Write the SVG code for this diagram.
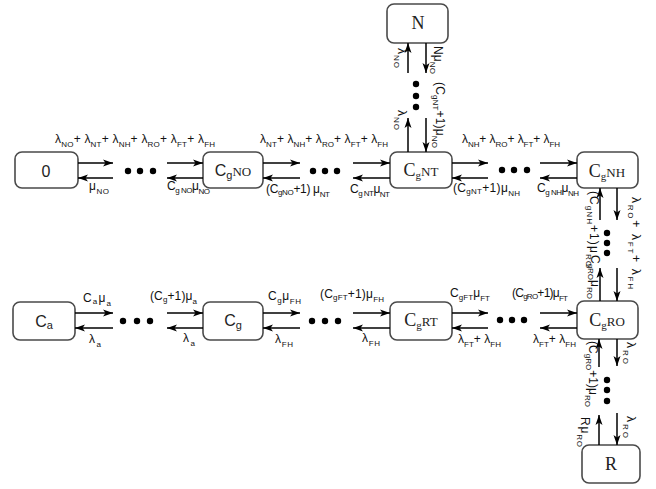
<svg xmlns="http://www.w3.org/2000/svg" width="656" height="489" viewBox="0 0 656 489">
<style>
.bx{fill:#fff;stroke:#4a4a4a;stroke-width:1.6}
.ln line{stroke:#000;stroke-width:1.5;marker-end:url(#ah)}
.dt circle{fill:#000}
.t{font-family:"Liberation Sans","DejaVu Sans",sans-serif;font-size:12px;fill:#111}
.s{font-size:8px}
.nd{font-family:"Liberation Serif","DejaVu Serif",serif;font-size:18px;fill:#222}
.nds{font-family:"Liberation Sans","DejaVu Sans",sans-serif;font-size:16px;fill:#222}
.ng{font-size:11px}
.nn{font-size:13px}
</style>
<defs>
<marker id="ah" markerWidth="10" markerHeight="8" refX="10" refY="4" orient="auto" markerUnits="userSpaceOnUse"><path d="M0,0.5 L10,4 L0,7.5 L2.5,4 z" fill="#000"/></marker>
</defs>

<g id="n0"><rect class="bx" x="15" y="152" width="63" height="36" rx="7"/><text class="nds" x="46" y="177" text-anchor="middle">0</text></g>
<g id="nCgNO"><rect class="bx" x="203" y="152" width="60" height="36" rx="7"/><text class="nds" x="233" y="176" text-anchor="middle">C<tspan class="ng" dy="3">g</tspan><tspan class="nn" dy="-3" font-family="Liberation Serif">NO</tspan></text></g>
<g id="nCgNT"><rect class="bx" x="390" y="152" width="62" height="36" rx="7"/><text class="nd" x="421" y="176" text-anchor="middle">C<tspan class="ng" dy="3">g</tspan><tspan class="nn" dy="-3">NT</tspan></text></g>
<g id="nN"><rect class="bx" x="387" y="4" width="61" height="39" rx="7"/><text class="nd" x="418" y="29" text-anchor="middle">N</text></g>
<g id="nCgNH"><rect class="bx" x="577" y="152" width="61" height="36" rx="7"/><text class="nd" x="607" y="177" text-anchor="middle">C<tspan class="ng" dy="3">g</tspan><tspan class="nn" dy="-3">NH</tspan></text></g>
<g id="nCa"><rect class="bx" x="13" y="302" width="62" height="38" rx="7"/><text class="nds" x="44" y="327" text-anchor="middle">C<tspan class="ng" dy="2">a</tspan></text></g>
<g id="nCg"><rect class="bx" x="203" y="302" width="60" height="38" rx="7"/><text class="nds" x="233" y="326" text-anchor="middle">C<tspan class="ng" dy="3">g</tspan></text></g>
<g id="nCgRT"><rect class="bx" x="390" y="302" width="62" height="38" rx="7"/><text class="nd" x="421" y="326" text-anchor="middle">C<tspan class="ng" dy="3">g</tspan><tspan class="nn" dy="-3">RT</tspan></text></g>
<g id="nCgRO"><rect class="bx" x="577" y="301" width="61" height="38" rx="7"/><text class="nd" x="607" y="326" text-anchor="middle">C<tspan class="ng" dy="3">g</tspan><tspan class="nn" dy="-3">RO</tspan></text></g>
<g id="nR"><rect class="bx" x="582" y="445" width="58" height="38" rx="7"/><text class="nd" x="611" y="470" text-anchor="middle">R</text></g>

<g id="connectors">
<g class="ln">
<line x1="78" y1="163" x2="113" y2="163"/><line x1="113" y1="178" x2="78" y2="178"/>
<line x1="167" y1="163" x2="203" y2="163"/><line x1="203" y1="178" x2="167" y2="178"/>
<line x1="263" y1="163" x2="300" y2="163"/><line x1="300" y1="178" x2="263" y2="178"/>
<line x1="353" y1="163" x2="390" y2="163"/><line x1="390" y1="178" x2="353" y2="178"/>
<line x1="452" y1="163" x2="488" y2="163"/><line x1="488" y1="178" x2="452" y2="178"/>
<line x1="540" y1="163" x2="577" y2="163"/><line x1="577" y1="178" x2="540" y2="178"/>
<line x1="408" y1="73" x2="408" y2="43"/><line x1="426" y1="43" x2="426" y2="73"/>
<line x1="408" y1="152" x2="408" y2="118"/><line x1="426" y1="118" x2="426" y2="152"/>
<line x1="600" y1="220" x2="600" y2="188"/><line x1="617" y1="188" x2="617" y2="220"/>
<line x1="600" y1="301" x2="600" y2="268"/><line x1="617" y1="268" x2="617" y2="301"/>
<line x1="75" y1="313" x2="113" y2="313"/><line x1="113" y1="328" x2="75" y2="328"/>
<line x1="167" y1="313" x2="203" y2="313"/><line x1="203" y1="328" x2="167" y2="328"/>
<line x1="263" y1="313" x2="300" y2="313"/><line x1="300" y1="328" x2="263" y2="328"/>
<line x1="353" y1="313" x2="390" y2="313"/><line x1="390" y1="328" x2="353" y2="328"/>
<line x1="452" y1="313" x2="488" y2="313"/><line x1="488" y1="328" x2="452" y2="328"/>
<line x1="540" y1="313" x2="577" y2="313"/><line x1="577" y1="328" x2="540" y2="328"/>
<line x1="599" y1="367" x2="599" y2="339"/><line x1="617" y1="339" x2="617" y2="366"/>
<line x1="599" y1="445" x2="599" y2="415"/><line x1="617" y1="413" x2="617" y2="445"/>
</g>
<g class="dt">
<circle cx="128" cy="171" r="3.2"/><circle cx="140" cy="171" r="3.2"/><circle cx="153" cy="171" r="3.2"/>
<circle cx="313" cy="171" r="3.2"/><circle cx="325" cy="171" r="3.2"/><circle cx="337" cy="171" r="3.2"/>
<circle cx="502" cy="170" r="3.2"/><circle cx="514" cy="170" r="3.2"/><circle cx="527" cy="170" r="3.2"/>
<circle cx="416" cy="84" r="3.2"/><circle cx="416" cy="96" r="3.2"/><circle cx="416" cy="107" r="3.2"/>
<circle cx="607" cy="233" r="3.2"/><circle cx="607" cy="243" r="3.2"/><circle cx="607" cy="253" r="3.2"/>
<circle cx="123" cy="321" r="3.2"/><circle cx="137" cy="321" r="3.2"/><circle cx="150" cy="321" r="3.2"/>
<circle cx="312" cy="321" r="3.2"/><circle cx="325" cy="321" r="3.2"/><circle cx="338" cy="321" r="3.2"/>
<circle cx="500" cy="320" r="3.2"/><circle cx="512" cy="320" r="3.2"/><circle cx="524" cy="320" r="3.2"/>
<circle cx="607" cy="380" r="3.2"/><circle cx="607" cy="390" r="3.2"/><circle cx="607" cy="401" r="3.2"/>
</g>

<!-- top row labels -->
<text class="t" x="55" y="143" textLength="160" lengthAdjust="spacing">λ<tspan class="s" dy="4">NO</tspan><tspan dy="-4">+ λ</tspan><tspan class="s" dy="4">NT</tspan><tspan dy="-4">+ λ</tspan><tspan class="s" dy="4">NH</tspan><tspan dy="-4">+ λ</tspan><tspan class="s" dy="4">RO</tspan><tspan dy="-4">+ λ</tspan><tspan class="s" dy="4">FT</tspan><tspan dy="-4">+ λ</tspan><tspan class="s" dy="4">FH</tspan></text>
<text class="t" x="89" y="190" textLength="20" lengthAdjust="spacing">μ<tspan class="s" dy="4">NO</tspan></text>
<text class="t" x="167" y="190" textLength="43" lengthAdjust="spacing">C<tspan class="s" dy="3">g NO</tspan><tspan dy="-3">μ</tspan><tspan class="s" dy="4">NO</tspan></text>
<text class="t" x="260" y="143" textLength="128" lengthAdjust="spacing">λ<tspan class="s" dy="4">NT</tspan><tspan dy="-4">+ λ</tspan><tspan class="s" dy="4">NH</tspan><tspan dy="-4">+ λ</tspan><tspan class="s" dy="4">RO</tspan><tspan dy="-4">+ λ</tspan><tspan class="s" dy="4">FT</tspan><tspan dy="-4">+ λ</tspan><tspan class="s" dy="4">FH</tspan></text>
<text class="t" x="266" y="193" textLength="64" lengthAdjust="spacing">(C<tspan class="s" dy="2">gNO</tspan><tspan dy="-2">+1) μ</tspan><tspan class="s" dy="4">NT</tspan></text>
<text class="t" x="350" y="193" textLength="40" lengthAdjust="spacing">C<tspan class="s" dy="3">g NT</tspan><tspan dy="-3">μ</tspan><tspan class="s" dy="4">NT</tspan></text>
<text class="t" x="462" y="143" textLength="98" lengthAdjust="spacing">λ<tspan class="s" dy="4">NH</tspan><tspan dy="-4">+ λ</tspan><tspan class="s" dy="4">RO</tspan><tspan dy="-4">+ λ</tspan><tspan class="s" dy="4">FT</tspan><tspan dy="-4">+ λ</tspan><tspan class="s" dy="4">FH</tspan></text>
<text class="t" x="453" y="192" textLength="67" lengthAdjust="spacing">(C<tspan class="s" dy="2">gNT</tspan><tspan dy="-2">+1)μ</tspan><tspan class="s" dy="4">NH</tspan></text>
<text class="t" x="537" y="192" textLength="42" lengthAdjust="spacing">C<tspan class="s" dy="3">g NH</tspan><tspan dy="-3">μ</tspan><tspan class="s" dy="4">NH</tspan></text>

<!-- vertical labels -->
<text class="t" transform="translate(398,48) rotate(90)" textLength="20" lengthAdjust="spacing">λ<tspan class="s" dy="4">NO</tspan></text>
<text class="t" transform="translate(434,46) rotate(90)" textLength="28" lengthAdjust="spacing">Nμ<tspan class="s" dy="4">NO</tspan></text>
<text class="t" transform="translate(398,110) rotate(90)" textLength="20" lengthAdjust="spacing">λ<tspan class="s" dy="4">NO</tspan></text>
<text class="t" transform="translate(436,82) rotate(90)" textLength="66" lengthAdjust="spacing">(C<tspan class="s" dy="3">gNT</tspan><tspan dy="-3">+1)μ</tspan><tspan class="s" dy="4">NO</tspan></text>
<text class="t" transform="translate(590,191) rotate(90)" textLength="76" lengthAdjust="spacing">(C<tspan class="s" dy="3">gNH</tspan><tspan dy="-3">+1)μ</tspan><tspan class="s" dy="4">RO</tspan></text>
<text class="t" transform="translate(591,255) rotate(90)" textLength="44" lengthAdjust="spacing">C<tspan class="s" dy="3">gRO</tspan><tspan dy="-3">μ</tspan><tspan class="s" dy="4">RO</tspan></text>
<text class="t" transform="translate(632,197) rotate(90)" textLength="92" lengthAdjust="spacing">λ<tspan class="s" dy="4">RO</tspan><tspan dy="-4">+ λ</tspan><tspan class="s" dy="4">FT</tspan><tspan dy="-4">+ λ</tspan><tspan class="s" dy="4">FH</tspan></text>
<text class="t" transform="translate(589,341) rotate(90)" textLength="66" lengthAdjust="spacing">(C<tspan class="s" dy="3">gRO</tspan><tspan dy="-3">+1)μ</tspan><tspan class="s" dy="4">RO</tspan></text>
<text class="t" transform="translate(581,417) rotate(90)" textLength="30" lengthAdjust="spacing">Rμ<tspan class="s" dy="4">RO</tspan></text>
<text class="t" transform="translate(627,342) rotate(90)" textLength="22" lengthAdjust="spacing">λ<tspan class="s" dy="4">RO</tspan></text>
<text class="t" transform="translate(627,416) rotate(90)" textLength="22" lengthAdjust="spacing">λ<tspan class="s" dy="4">RO</tspan></text>

<!-- bottom row labels -->
<text class="t" x="83" y="302" textLength="28" lengthAdjust="spacing">C<tspan class="s" dy="2">a</tspan><tspan dy="-2">μ</tspan><tspan class="s" dy="4">a</tspan></text>
<text class="t" x="89" y="343" textLength="12" lengthAdjust="spacing">λ<tspan class="s" dy="4">a</tspan></text>
<text class="t" x="150" y="300" textLength="47" lengthAdjust="spacing">(C<tspan class="s" dy="2">g</tspan><tspan dy="-2">+1)μ</tspan><tspan class="s" dy="4">a</tspan></text>
<text class="t" x="183" y="342" textLength="12" lengthAdjust="spacing">λ<tspan class="s" dy="4">a</tspan></text>
<text class="t" x="268" y="300" textLength="33" lengthAdjust="spacing">C<tspan class="s" dy="3">g</tspan><tspan dy="-3">μ</tspan><tspan class="s" dy="4">FH</tspan></text>
<text class="t" x="275" y="343" textLength="18" lengthAdjust="spacing">λ<tspan class="s" dy="4">FH</tspan></text>
<text class="t" x="320" y="298" textLength="64" lengthAdjust="spacing">(C<tspan class="s" dy="2">gFT</tspan><tspan dy="-2">+1)μ</tspan><tspan class="s" dy="4">FH</tspan></text>
<text class="t" x="362" y="342" textLength="18" lengthAdjust="spacing">λ<tspan class="s" dy="4">FH</tspan></text>
<text class="t" x="450" y="297" textLength="40" lengthAdjust="spacing">C<tspan class="s" dy="3">gFT</tspan><tspan dy="-3">μ</tspan><tspan class="s" dy="4">FT</tspan></text>
<text class="t" x="458" y="343" textLength="43" lengthAdjust="spacing">λ<tspan class="s" dy="4">FT</tspan><tspan dy="-4">+ λ</tspan><tspan class="s" dy="4">FH</tspan></text>
<text class="t" x="512" y="297" textLength="56" lengthAdjust="spacing">(C<tspan class="s" dy="2">gRO</tspan><tspan dy="-2">+1)μ</tspan><tspan class="s" dy="4">FT</tspan></text>
<text class="t" x="533" y="343" textLength="43" lengthAdjust="spacing">λ<tspan class="s" dy="4">FT</tspan><tspan dy="-4">+ λ</tspan><tspan class="s" dy="4">FH</tspan></text>
</g>
</svg>
